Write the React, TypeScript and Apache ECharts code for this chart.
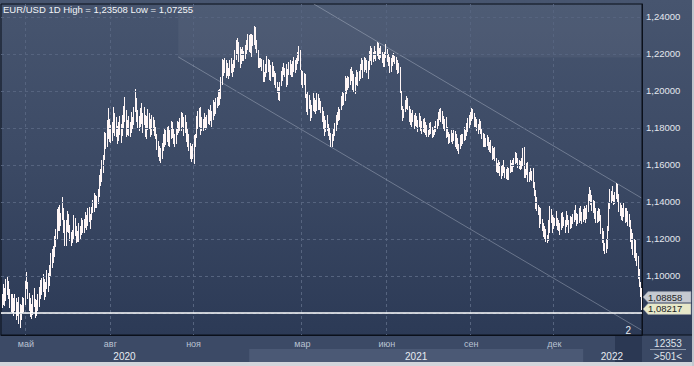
import React, { useEffect, useRef } from "react";
import * as echarts from "echarts";

const symbolName = "EUR/USD";
const periodName = "1D";

// Daily bar highs (Apr 6 2020 .. Mar 7 2022)
const highs: number[] = [
  1.0905, 1.0958, 1.0935, 1.0985, 1.0995, 1.0975, 1.0930, 1.0905, 1.0900, 1.0880,
  1.0905, 1.0880, 1.0860, 1.0885, 1.0850, 1.0845, 1.0885, 1.0880, 1.0975, 1.1020,
  1.0965, 1.0910, 1.0880, 1.0850, 1.0895, 1.0935, 1.0875, 1.0870, 1.0905, 1.0940,
  1.0980, 1.0990, 1.1010, 1.0985, 1.0970, 1.1035, 1.1015, 1.1060, 1.1125, 1.1145,
  1.1160, 1.1215, 1.1255, 1.1360, 1.1375, 1.1385, 1.1340, 1.1425, 1.1370, 1.1300,
  1.1305, 1.1350, 1.1335, 1.1275, 1.1235, 1.1250, 1.1330, 1.1315, 1.1270, 1.1245,
  1.1285, 1.1270, 1.1315, 1.1300, 1.1310, 1.1345, 1.1330, 1.1370, 1.1375, 1.1335,
  1.1375, 1.1410, 1.1450, 1.1440, 1.1430, 1.1470, 1.1545, 1.1580, 1.1625, 1.1655,
  1.1780, 1.1775, 1.1845, 1.1910, 1.1850, 1.1815, 1.1830, 1.1915, 1.1880, 1.1860,
  1.1810, 1.1830, 1.1865, 1.1820, 1.1870, 1.1920, 1.1965, 1.1895, 1.1845, 1.1865,
  1.1830, 1.1885, 1.1860, 1.1915, 1.2010, 1.1960, 1.1895, 1.1865, 1.1910, 1.1935,
  1.1880, 1.1915, 1.1870, 1.1865, 1.1900, 1.1880, 1.1850, 1.1870, 1.1860, 1.1845,
  1.1805, 1.1770, 1.1730, 1.1705, 1.1690, 1.1720, 1.1765, 1.1795, 1.1790, 1.1805,
  1.1810, 1.1790, 1.1835, 1.1830, 1.1795, 1.1770, 1.1800, 1.1840, 1.1830, 1.1855,
  1.1885, 1.1880, 1.1860, 1.1870, 1.1830, 1.1800, 1.1770, 1.1720, 1.1705, 1.1715,
  1.1760, 1.1770, 1.1865, 1.1890, 1.1910, 1.1915, 1.1860, 1.1850, 1.1880, 1.1860,
  1.1870, 1.1900, 1.1895, 1.1925, 1.1890, 1.1950, 1.1940, 1.1960, 1.1970, 1.2005,
  1.2010, 1.2075, 1.2175, 1.2170, 1.2180, 1.2165, 1.2150, 1.2125, 1.2165, 1.2180,
  1.2145, 1.2165, 1.2220, 1.2275, 1.2285, 1.2265, 1.2240, 1.2225, 1.2235, 1.2215,
  1.2250, 1.2275, 1.2310, 1.2300, 1.2310, 1.2310, 1.2300, 1.23508, 1.2345, 1.2275,
  1.2220, 1.2180, 1.2180, 1.2175, 1.2165, 1.2105, 1.2145, 1.2190, 1.2175, 1.2170,
  1.2140, 1.2155, 1.2135, 1.2110, 1.2095, 1.2050, 1.2020, 1.2050, 1.2110, 1.2130,
  1.2150, 1.2125, 1.2145, 1.2120, 1.2155, 1.2170, 1.2145, 1.2160, 1.2185, 1.2165,
  1.2180, 1.2210, 1.2245, 1.2220, 1.2115, 1.2110, 1.2095, 1.2090, 1.1985, 1.1995,
  1.1980, 1.1950, 1.1925, 1.1990, 1.1960, 1.1950, 1.1990, 1.1985, 1.1960, 1.1945,
  1.1915, 1.1890, 1.1865, 1.1845, 1.1870, 1.1820, 1.1800, 1.1775, 1.1765, 1.1800,
  1.1825, 1.1870, 1.1885, 1.1915, 1.1900, 1.1975, 1.1995, 1.1990, 1.2080, 1.2070,
  1.2080, 1.2075, 1.2120, 1.2130, 1.2110, 1.2090, 1.2075, 1.2115, 1.2105, 1.2110,
  1.2145, 1.2180, 1.2170, 1.2185, 1.2180, 1.2170, 1.2160, 1.2215, 1.2245, 1.2230,
  1.2210, 1.2245, 1.2215, 1.2265, 1.2260, 1.2230, 1.2245, 1.2210, 1.2200, 1.2210,
  1.2255, 1.2225, 1.2200, 1.2185, 1.2180, 1.2195, 1.2205, 1.2190, 1.2185, 1.2170,
  1.2150, 1.2130, 1.2000, 1.1920, 1.1905, 1.1950, 1.1975, 1.1960, 1.1920, 1.1900,
  1.1880, 1.1895, 1.1870, 1.1880, 1.1865, 1.1845, 1.1880, 1.1865, 1.1835, 1.1850,
  1.1855, 1.1830, 1.1815, 1.1790, 1.1825, 1.1830, 1.1805, 1.1790, 1.1810, 1.1840,
  1.1850, 1.1885, 1.1905, 1.1910, 1.1890, 1.1865, 1.1850, 1.1860, 1.1805, 1.1780,
  1.1770, 1.1790, 1.1775, 1.1790, 1.1785, 1.1765, 1.1745, 1.1715, 1.1760, 1.1770,
  1.1765, 1.1805, 1.1790, 1.1825, 1.1855, 1.1870, 1.1885, 1.1910, 1.1905, 1.1880,
  1.1860, 1.1850, 1.1820, 1.1850, 1.1840, 1.1800, 1.1775, 1.1765, 1.1745, 1.1760,
  1.1750, 1.1725, 1.1735, 1.1700, 1.1690, 1.1695, 1.1640, 1.1610, 1.1625, 1.1615,
  1.1595, 1.1600, 1.1625, 1.1590, 1.1580, 1.1590, 1.1585, 1.1625, 1.1610, 1.1625,
  1.1640, 1.1670, 1.1665, 1.1640, 1.1625, 1.1620, 1.1640, 1.1690, 1.1695, 1.1580,
  1.1610, 1.1615, 1.1560, 1.1585, 1.1570, 1.1585, 1.1510, 1.1465, 1.1425, 1.1385,
  1.1375, 1.1370, 1.1310, 1.1285, 1.1270, 1.1255, 1.1220, 1.1300, 1.1380, 1.1360,
  1.1330, 1.1320, 1.1315, 1.1350, 1.1315, 1.1300, 1.1285, 1.1340, 1.1345, 1.1320,
  1.1300, 1.1350, 1.1330, 1.1300, 1.1325, 1.1320, 1.1335, 1.1355, 1.1385, 1.1340,
  1.1335, 1.1365, 1.1380, 1.1345, 1.1360, 1.1380, 1.1370, 1.1385, 1.1445, 1.1480,
  1.1465, 1.1440, 1.1410, 1.1405, 1.1370, 1.1350, 1.1365, 1.1360, 1.1330, 1.1260,
  1.1245, 1.1180, 1.1200, 1.1270, 1.1395, 1.1470, 1.1460, 1.1485, 1.1440, 1.1455,
  1.1500, 1.1495, 1.1445, 1.1395, 1.1385, 1.1370, 1.1395, 1.1370, 1.1365, 1.1350,
  1.1335, 1.1300, 1.1255, 1.1230, 1.1200, 1.1195, 1.1125, 1.1110, 1.1040, 1.0970,
  1.0935,
];

// Daily bar lows
const lows: number[] = [
  1.0835, 1.0850, 1.0845, 1.0870, 1.0905, 1.0880, 1.0835, 1.0810, 1.0805, 1.0790,
  1.0815, 1.0765, 1.0790, 1.0745, 1.07255, 1.0765, 1.0805, 1.0810, 1.0850, 1.0935,
  1.0880, 1.0815, 1.0785, 1.0775, 1.0795, 1.0840, 1.0780, 1.0790, 1.0815, 1.0840,
  1.0880, 1.0900, 1.0920, 1.0875, 1.0890, 1.0935, 1.0920, 1.0950, 1.1000, 1.1050,
  1.1075, 1.1110, 1.1160, 1.1200, 1.1250, 1.1250, 1.1275, 1.1310, 1.1235, 1.1170,
  1.1170, 1.1245, 1.1235, 1.1195, 1.1170, 1.1185, 1.1205, 1.1220, 1.1185, 1.1190,
  1.1190, 1.1205, 1.1225, 1.1235, 1.1240, 1.1265, 1.1255, 1.1275, 1.1295, 1.1260,
  1.1310, 1.1345, 1.1350, 1.1375, 1.1375, 1.1395, 1.1430, 1.1490, 1.1515, 1.1560,
  1.1630, 1.1690, 1.1705, 1.1745, 1.1730, 1.1725, 1.1735, 1.1780, 1.1760, 1.1755,
  1.1720, 1.1735, 1.1770, 1.1725, 1.1760, 1.1805, 1.1835, 1.1755, 1.1765, 1.1760,
  1.1755, 1.1780, 1.1800, 1.1820, 1.1890, 1.1840, 1.1805, 1.1790, 1.1810, 1.1825,
  1.1780, 1.1820, 1.1755, 1.1745, 1.1795, 1.1800, 1.1755, 1.1765, 1.1790, 1.1760,
  1.1745, 1.1685, 1.1650, 1.1625, 1.1615, 1.1640, 1.1680, 1.1700, 1.1715, 1.1730,
  1.1710, 1.1700, 1.1745, 1.1750, 1.1720, 1.1700, 1.1720, 1.1765, 1.1780, 1.1790,
  1.1790, 1.1810, 1.1760, 1.1780, 1.1730, 1.1700, 1.1680, 1.1640, 1.1620, 1.1640,
  1.1610, 1.1700, 1.1750, 1.1800, 1.1810, 1.1770, 1.1790, 1.1790, 1.1805, 1.1795,
  1.1800, 1.1825, 1.1820, 1.1845, 1.1810, 1.1850, 1.1870, 1.1880, 1.1915, 1.1925,
  1.1930, 1.1960, 1.2040, 1.2085, 1.2105, 1.2075, 1.2085, 1.2070, 1.2085, 1.2100,
  1.2080, 1.2110, 1.2130, 1.2175, 1.2200, 1.2160, 1.2130, 1.2150, 1.2170, 1.2165,
  1.2180, 1.2205, 1.2225, 1.2215, 1.2210, 1.2190, 1.2250, 1.2255, 1.2230, 1.2210,
  1.2130, 1.2130, 1.2135, 1.2115, 1.2055, 1.2055, 1.2080, 1.2100, 1.2110, 1.2065,
  1.2060, 1.2080, 1.2080, 1.2040, 1.2020, 1.1995, 1.1955, 1.1950, 1.2030, 1.2060,
  1.2090, 1.2080, 1.2025, 1.2040, 1.2090, 1.2090, 1.2080, 1.2080, 1.2110, 1.2100,
  1.2120, 1.2150, 1.2165, 1.2120, 1.2040, 1.2020, 1.2040, 1.1965, 1.1890, 1.1875,
  1.1910, 1.1845, 1.1860, 1.1895, 1.1890, 1.1880, 1.1895, 1.1900, 1.1905, 1.1885,
  1.1835, 1.1800, 1.1760, 1.1785, 1.1790, 1.1760, 1.1740, 1.1705, 1.1705, 1.1735,
  1.1760, 1.1790, 1.1820, 1.1845, 1.1850, 1.1900, 1.1925, 1.1930, 1.1950, 1.1990,
  1.2010, 1.2020, 1.2040, 1.2060, 1.2010, 1.2000, 1.1990, 1.2040, 1.2030, 1.2060,
  1.2070, 1.2120, 1.2075, 1.2110, 1.2120, 1.2100, 1.2070, 1.2120, 1.2170, 1.2145,
  1.2160, 1.2180, 1.2165, 1.2195, 1.2180, 1.2175, 1.2185, 1.2155, 1.2135, 1.2135,
  1.2185, 1.2160, 1.2140, 1.2105, 1.2110, 1.2140, 1.2160, 1.2150, 1.2120, 1.2095,
  1.2100, 1.1995, 1.1900, 1.1845, 1.1860, 1.1890, 1.1910, 1.1900, 1.1840, 1.1820,
  1.1810, 1.1840, 1.1800, 1.1815, 1.1810, 1.1785, 1.1810, 1.1790, 1.1775, 1.1785,
  1.1780, 1.1770, 1.1755, 1.1755, 1.1765, 1.1775, 1.1750, 1.1755, 1.1765, 1.1785,
  1.1800, 1.1815, 1.1850, 1.1835, 1.1825, 1.1800, 1.1790, 1.1750, 1.1755, 1.1720,
  1.1725, 1.1730, 1.1720, 1.1735, 1.1700, 1.1690, 1.1680, 1.1665, 1.1690, 1.1710,
  1.1720, 1.1735, 1.1740, 1.1760, 1.1785, 1.1805, 1.1820, 1.1845, 1.1855, 1.1810,
  1.1810, 1.1790, 1.1775, 1.1795, 1.1775, 1.1745, 1.1705, 1.1700, 1.1700, 1.1710,
  1.1685, 1.1675, 1.1670, 1.1630, 1.1640, 1.1625, 1.1565, 1.1560, 1.1560, 1.1545,
  1.1530, 1.1545, 1.1560, 1.1535, 1.1530, 1.1525, 1.1525, 1.1560, 1.1570, 1.1570,
  1.1595, 1.1610, 1.1615, 1.1590, 1.1585, 1.1580, 1.1585, 1.1600, 1.1535, 1.1535,
  1.1550, 1.1515, 1.1515, 1.1525, 1.1520, 1.1480, 1.1440, 1.1370, 1.1355, 1.1335,
  1.1265, 1.1285, 1.1250, 1.1215, 1.1205, 1.1190, 1.1185, 1.1195, 1.1235, 1.1290,
  1.1235, 1.1260, 1.1275, 1.1275, 1.1255, 1.1250, 1.1225, 1.1255, 1.1265, 1.1275,
  1.1240, 1.1270, 1.1280, 1.1235, 1.1260, 1.1265, 1.1285, 1.1295, 1.1310, 1.1275,
  1.1285, 1.1290, 1.1300, 1.1285, 1.1295, 1.1310, 1.1290, 1.1315, 1.1350, 1.1410,
  1.1390, 1.1355, 1.1345, 1.1315, 1.1290, 1.1290, 1.1295, 1.1300, 1.1230, 1.1185,
  1.1140, 1.1125, 1.1130, 1.1150, 1.1250, 1.1370, 1.1400, 1.1410, 1.1390, 1.1395,
  1.1420, 1.1405, 1.1350, 1.1330, 1.1310, 1.1305, 1.1325, 1.1290, 1.1295, 1.1275,
  1.1270, 1.1190, 1.1150, 1.1120, 1.1105, 1.1085, 1.1060, 1.0990, 1.0945, 1.0890,
  1.0822,
];

const gridTicks = [1.08, 1.1, 1.12, 1.14, 1.16, 1.18, 1.2, 1.22, 1.24];
const labelTicks = [1.1, 1.12, 1.14, 1.16, 1.18, 1.2, 1.22, 1.24];
const yMin = 1.0681;
const yMax = 1.247;
const tickMonths = ["2020-05", "2020-08", "2020-11", "2021-03", "2021-06", "2021-09", "2021-12"];
const tickMonthNames = ["май", "авг", "ноя", "мар", "июн", "сен", "дек"];
const lastPrice = 1.08217;
const prevPrice = 1.08858;
const channelUpper: [number, number][] = [[244, 1.247], [500, 1.1422]];
const channelLower: [number, number][] = [[138, 1.2184], [500, 1.0708]];
const channelLabel = "2";
const totalBars = 12353;
const startDay = Date.UTC(2020, 3, 6);

const FONT = "'Liberation Sans', Arial, sans-serif";
const fmt = (v: number) => v.toFixed(5).replace(".", ",");

function buildDates(n: number): string[] {
  const out: string[] = [];
  for (let t = startDay; out.length < n; t += 86400000) {
    const d = new Date(t);
    const wd = d.getUTCDay();
    if (wd !== 0 && wd !== 6) out.push(d.toISOString().slice(0, 10));
  }
  return out;
}

export default function App() {
  const ref = useRef<HTMLDivElement>(null);
  useEffect(() => {
    const el = ref.current!;
    const chart = echarts.init(el, null, { renderer: "svg", width: 694, height: 366 });
    const dates = buildDates(highs.length);
    const monthIdx = new Map<number, string>();
    tickMonths.forEach((m, k) => {
      const i = dates.findIndex((d) => d.startsWith(m));
      if (i >= 0) monthIdx.set(i, tickMonthNames[k]);
    });
    const yearRange = new Map<string, [number, number]>();
    dates.forEach((d, i) => {
      const y = d.slice(0, 4);
      const r = yearRange.get(y);
      if (!r) yearRange.set(y, [i, i]);
      else r[1] = i;
    });
    const yearMid = new Map<number, string>();
    yearRange.forEach((r, y) => yearMid.set(Math.floor((r[0] + r[1]) / 2), y));

    const gridColor = "#56647f";
    const option: any = {
      animation: false,
      backgroundColor: "transparent",
      grid: { left: 1, right: 52, top: 4, bottom: 31, show: true, borderColor: "#0b101b", borderWidth: 1, backgroundColor: "transparent" },
      xAxis: [
        {
          type: "category",
          data: dates,
          boundaryGap: true,
          axisLine: { show: true, lineStyle: { color: "#0b101b", width: 1 } },
          axisTick: { show: false },
          axisLabel: {
            interval: (i: number) => monthIdx.has(i),
            formatter: (_v: string, i: number) => monthIdx.get(i) || "",
            color: "#b9c2d2",
            fontSize: 9,
            fontFamily: FONT,
            margin: 4,
          },
          splitLine: { show: true, interval: (i: number) => monthIdx.has(i), lineStyle: { color: gridColor, type: [3, 3], width: 1 } },
        },
        {
          type: "category",
          data: dates,
          position: "bottom",
          offset: 14,
          boundaryGap: true,
          axisLine: { show: false },
          axisTick: { show: false },
          splitLine: { show: false },
          axisLabel: {
            interval: (i: number) => yearMid.has(i),
            formatter: (_v: string, i: number) => yearMid.get(i) || "",
            color: "#e6eaf1",
            fontSize: 10,
            fontFamily: FONT,
            margin: 2,
          },
        },
      ],
      yAxis: {
        type: "value",
        position: "right",
        min: yMin,
        max: yMax,
        axisLine: { show: true, lineStyle: { color: "#0b101b", width: 1 } },
        axisTick: { show: false },
        splitLine: { show: false },
        axisLabel: { customValues: labelTicks, formatter: (v: number) => fmt(v), color: "#e3e7ee", fontSize: 9.5, fontFamily: FONT, margin: 4 },
      },
      series: [
        {
          type: "line",
          z: 1,
          silent: true,
          showSymbol: false,
          data: channelUpper.map(([i, v]) => [dates[i], v]),
          lineStyle: { color: "rgba(220,228,240,0.32)", width: 1 },
          markLine: {
            silent: true,
            symbol: ["none", "none"],
            label: { show: false },
            lineStyle: { color: gridColor, type: [3, 3], width: 1 },
            data: gridTicks.map((v) => ({ yAxis: v })),
          },
        },
        {
          type: "line",
          z: 1,
          silent: true,
          showSymbol: false,
          data: channelLower.map(([i, v]) => [dates[i], v]),
          lineStyle: { color: "rgba(220,228,240,0.32)", width: 1 },
        },
        {
          type: "custom",
          z: 3,
          silent: true,
          data: highs.map((h, i) => [i, lows[i], h]),
          encode: { x: 0, y: [1, 2] },
          renderItem: (_p: any, api: any) => {
            const i = api.value(0);
            const a = api.coord([i, api.value(1)]);
            const b = api.coord([i, api.value(2)]);
            const x = Math.round(a[0]) + 0.5;
            return {
              type: "line",
              shape: { x1: x, y1: Math.round(a[1]) + 1, x2: x, y2: Math.round(b[1]) },
              style: { stroke: "#fff6f6", lineWidth: 1 },
            };
          },
          markLine: {
            silent: true,
            symbol: ["none", "none"],
            label: { show: false },
            lineStyle: { color: "#ffffff", type: "solid", width: 1.5 },
            data: [{ yAxis: lastPrice }],
          },
        },
      ],
    };
    chart.setOption(option);

    const px = (i: number) => chart.convertToPixel({ xAxisIndex: 0 }, dates[i]) as number;
    const py = (v: number) => chart.convertToPixel({ yAxisIndex: 0 }, v) as number;
    const half = (px(1) - px(0)) / 2;
    const plotR = px(dates.length - 1) + half;
    const plotB = py(yMin);
    const r2021 = yearRange.get("2021")!;
    const tagY1 = py(prevPrice);
    const tagY2 = py(lastPrice);
    const tag = (y: number, fill: string, text: string) => ({
      type: "group",
      z: 100,
      children: [
        {
          type: "polygon",
          z: 100,
          shape: { points: [[plotR + 1, y], [plotR + 6, y - 5.5], [691, y - 5.5], [691, y + 5.5], [plotR + 6, y + 5.5]] },
          style: { fill, stroke: "#8a90a0", lineWidth: 0.5 },
        },
        {
          type: "text",
          z: 101,
          x: plotR + 6,
          y,
          style: { text, fill: "#1c1f26", fontSize: 9.5, fontFamily: FONT, verticalAlign: "middle", align: "left" },
        },
      ],
    });
    const hiV = Math.max(...highs);
    const loV = Math.min(...lows);

    chart.setOption({
      graphic: [
        { type: "rect", z: -10, shape: { x: px(channelLower[0][0]), y: py(yMax) + 0.5, width: plotR - px(channelLower[0][0]), height: py(channelLower[0][1]) - py(yMax) }, style: { fill: "rgba(255,255,255,0.045)" } },
        { type: "rect", z: -10, shape: { x: 0, y: plotB, width: plotR, height: 362 - plotB }, style: { fill: "#3c4a66" } },
        { type: "rect", z: -9, shape: { x: px(r2021[0]) - half, y: plotB + 14, width: px(r2021[1]) - px(r2021[0]) + 2 * half, height: 362 - plotB - 14 }, style: { fill: "#4b5975" } },
        { type: "rect", z: -9, shape: { x: 615, y: plotB + 1, width: plotR - 615, height: 362 - plotB - 1 }, style: { fill: "#2b3853" } },
        { type: "rect", z: -10, shape: { x: plotR, y: plotB, width: 692 - plotR, height: 362 - plotB }, style: { fill: "#3a4864" } },
        { type: "rect", z: -8, shape: { x: 0, y: 362, width: 694, height: 4 }, style: { fill: "#d2d5db" } },
        { type: "rect", z: -8, shape: { x: 692, y: 0, width: 2, height: 366 }, style: { fill: "#c3c7cf" } },
        { type: "line", z: 50, shape: { x1: plotR, y1: plotB, x2: 692, y2: plotB }, style: { stroke: "#0b101b", lineWidth: 1 } },
        { type: "line", z: 50, shape: { x1: 650, y1: 349.5, x2: 686, y2: 349.5 }, style: { stroke: "#8e98ab", lineWidth: 1 } },
        { type: "text", z: 100, x: 668, y: 343, style: { text: String(totalBars), fill: "#dfe3ea", fontSize: 10, fontFamily: FONT, align: "center", verticalAlign: "middle" } },
        { type: "text", z: 100, x: 668, y: 356, style: { text: ">" + highs.length + "<", fill: "#dfe3ea", fontSize: 10, fontFamily: FONT, align: "center", verticalAlign: "middle" } },
        {
          type: "text",
          z: 100,
          x: 3,
          y: 9,
          style: {
            text: `${symbolName} ${periodName} High = ${fmt(hiV)} Low = ${fmt(loV)}`,
            fill: "#f2f4f8",
            fontSize: 9.5,
            fontFamily: FONT,
            verticalAlign: "middle",
          },
        },
        { type: "text", z: 100, x: px(channelLower[1][0]) - 13, y: plotB - 5, style: { text: channelLabel, fill: "#e8ecf2", fontSize: 10, fontFamily: FONT, align: "center", verticalAlign: "middle" } },
        tag(tagY1, "#c6cad1", fmt(prevPrice)),
        tag(tagY2, "#e7e8c9", fmt(lastPrice)),
      ],
    });
    return () => chart.dispose();
  }, []);
  return (
    <div
      ref={ref}
      style={{
        position: "fixed",
        left: 0,
        top: 0,
        width: 694,
        height: 366,
        background: "linear-gradient(180deg, #47556f 0%, #3d4b66 40%, #2c3a56 92%)",
      }}
    />
  );
}
